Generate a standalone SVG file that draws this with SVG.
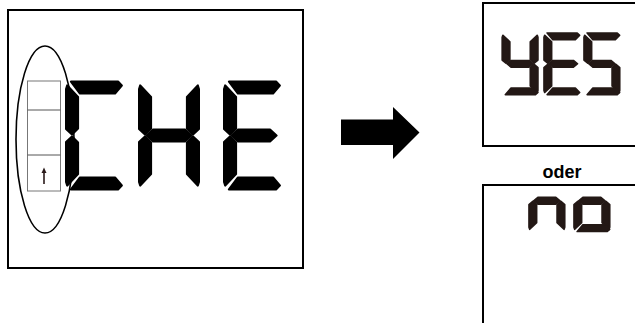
<svg xmlns="http://www.w3.org/2000/svg" xmlns:xlink="http://www.w3.org/1999/xlink" width="635" height="323" viewBox="0 0 635 323">
<style>
.frame{fill:#fff;stroke:#000;stroke-width:2}
.big{fill:#000;stroke:#000;stroke-width:2.2;stroke-linejoin:round}
.small{fill:#231815;stroke:#231815;stroke-width:2.6;stroke-linejoin:round}
.txt{font-family:"Liberation Sans",Arial,sans-serif;font-weight:bold;font-size:18px;fill:#000}
</style>
<defs>
<polygon id="sa" points="6,1.1 53,1.1 56.8,5 50,13 15,13"/>
<polygon id="sb" points="56.9,8.5 55.8,5 45,16.5 45,48 51,54 56.9,48.5"/>
<polygon id="sc" points="56.9,101.5 55.8,105 45,93.5 45,62 51,56 56.9,61.5"/>
<polygon id="sd" points="6,108.9 53,108.9 56.8,105 50,97 15,97"/>
<polygon id="se" points="1.1,101.5 2.2,105 13,93.5 13,62 7,56 1.1,61.5"/>
<polygon id="sf" points="1.1,8.5 2.2,5 13,16.5 13,48 7,54 1.1,48.5"/>
<polygon id="sg" points="8.5,55 15,49 43,49 49.5,55 43,61 15,61"/>
<polygon id="sgw" points="8.5,55 15,49 47,49 53.5,55 47,61 15,61"/>
</defs>
<g id="display-che">
<rect class="frame" x="8" y="10" width="295" height="258"/>
<ellipse cx="45" cy="139.5" rx="29" ry="93.5" fill="none" stroke="#000" stroke-width="1.6"/>
<rect x="27.5" y="81" width="33" height="110" fill="none" stroke="#777" stroke-width="1"/>
<line x1="27.5" y1="110" x2="60.5" y2="110" stroke="#555" stroke-width="1"/>
<line x1="27.5" y1="155" x2="60.5" y2="155" stroke="#555" stroke-width="1"/>
<line x1="44" y1="172" x2="44" y2="184" stroke="#2a1a1a" stroke-width="1.6"/>
<polygon points="44,167.5 41.5,173 46.5,173" fill="#2a1a1a"/>
<g class="big" transform="translate(65,80.5)">
<use xlink:href="#sa"/><use xlink:href="#sf"/><use xlink:href="#se"/><use xlink:href="#sd"/>
</g>
<g class="big" transform="translate(138,80.5)">
<use xlink:href="#sf"/><use xlink:href="#se"/><use xlink:href="#sb" x="4"/><use xlink:href="#sc" x="4"/><use xlink:href="#sgw"/>
</g>
<g class="big" transform="translate(223,80.5)">
<use xlink:href="#sa"/><use xlink:href="#sf"/><use xlink:href="#se"/><use xlink:href="#sd"/><use xlink:href="#sgw"/>
</g>
</g>
<g id="connectors">
<polygon points="341,119.5 393,119.5 393,107 419.5,132.5 393,159 393,145 341,145" fill="#000"/>
</g>
<g id="display-yes">
<rect class="frame" x="483" y="3" width="160" height="143"/>
<g class="small" transform="translate(501.5,32.3) scale(0.64,0.573)">
<use xlink:href="#sf"/><use xlink:href="#sb"/><use xlink:href="#sc"/><use xlink:href="#sd"/><use xlink:href="#sg"/>
</g>
<g class="small" transform="translate(543.3,32.3) scale(0.64,0.573)">
<use xlink:href="#sa"/><use xlink:href="#sf"/><use xlink:href="#se"/><use xlink:href="#sd"/><use xlink:href="#sgw"/>
</g>
<g class="small" transform="translate(583.3,32.3) scale(0.64,0.573)">
<use xlink:href="#sa"/><use xlink:href="#sf"/><use xlink:href="#sc"/><use xlink:href="#sd"/><use xlink:href="#sg"/>
</g>
</g>
<text id="label-oder" class="txt" x="562" y="178" text-anchor="middle">oder</text>
<g id="display-no">
<rect class="frame" x="483" y="185" width="160" height="160"/>
<g class="small" transform="translate(528.3,169.2) scale(0.64,0.573)">
<use xlink:href="#sg"/><use xlink:href="#se"/><use xlink:href="#sc"/>
</g>
<g class="small" transform="translate(573.3,169.2) scale(0.64,0.573)">
<use xlink:href="#sg"/><use xlink:href="#se"/><use xlink:href="#sc"/><use xlink:href="#sd"/>
</g>
</g>
</svg>
